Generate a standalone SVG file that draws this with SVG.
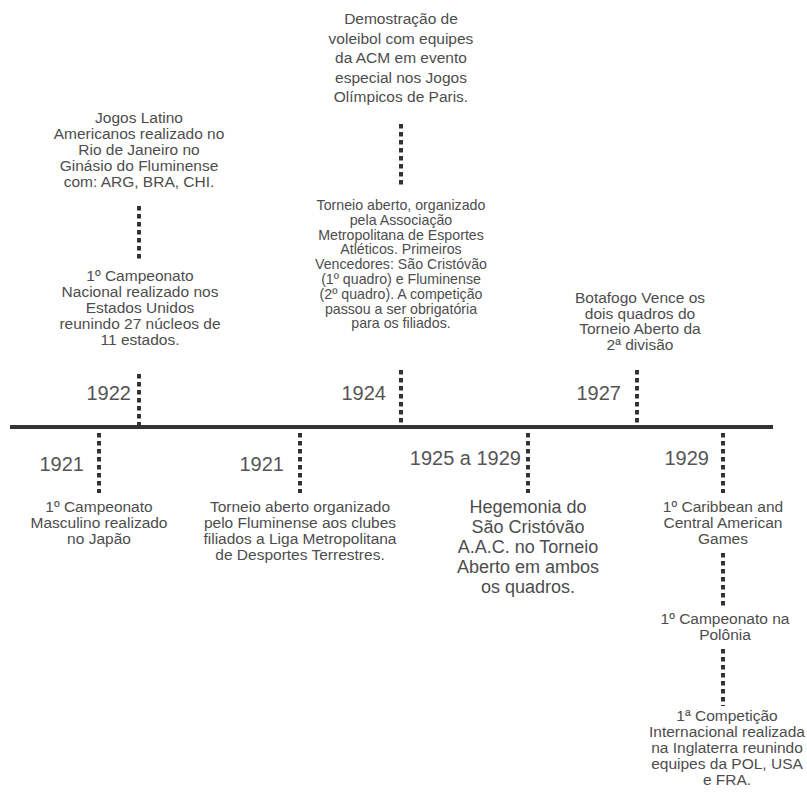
<svg xmlns="http://www.w3.org/2000/svg" width="807" height="799" viewBox="0 0 807 799">
<style>
.t{font-family:"Liberation Sans",Arial,sans-serif;font-size:15.5px;fill:#4d4d4d;text-anchor:middle}
.s{font-size:14.2px}
.b{font-size:18px}
.y{font-family:"Liberation Sans",Arial,sans-serif;font-size:20px;fill:#555;text-anchor:end}
.d{stroke:#333;stroke-width:4;stroke-dasharray:4.5 3.5;fill:none}
.axis{stroke:#333;stroke-width:4}
</style>
<rect width="807" height="799" fill="#fff"/>
<g id="connectors">
<line class="axis" x1="10" y1="427" x2="773" y2="427"/>
<line class="d" x1="139" y1="206" x2="139" y2="262"/>
<line class="d" x1="139" y1="374" x2="139" y2="425"/>
<line class="d" x1="401" y1="124" x2="401" y2="186"/>
<line class="d" x1="401" y1="370" x2="401" y2="425"/>
<line class="d" x1="637" y1="370" x2="637" y2="425"/>
<line class="d" x1="99" y1="433" x2="99" y2="493"/>
<line class="d" x1="300" y1="433" x2="300" y2="493"/>
<line class="d" x1="528" y1="433" x2="528" y2="493"/>
<line class="d" x1="723" y1="433" x2="723" y2="493"/>
<line class="d" x1="723" y1="553" x2="723" y2="609"/>
<line class="d" x1="723" y1="649" x2="723" y2="706"/>
</g>
<g id="n1922-jogos">
<text class="t" x="139" y="123">Jogos Latino</text>
<text class="t" x="139" y="139">Americanos realizado no</text>
<text class="t" x="139" y="155">Rio de Janeiro no</text>
<text class="t" x="139" y="171">Ginásio do Fluminense</text>
<text class="t" x="139" y="187">com: ARG, BRA, CHI.</text>
</g>
<g id="n1922-campeonato">
<text class="t" x="140" y="281">1º Campeonato</text>
<text class="t" x="140" y="297">Nacional realizado nos</text>
<text class="t" x="140" y="313">Estados Unidos</text>
<text class="t" x="140" y="329">reunindo 27 núcleos de</text>
<text class="t" x="140" y="345">11 estados.</text>
</g>
<g id="y1922"><text class="y" x="131" y="400">1922</text></g>
<g id="n1924-demo">
<text class="t" x="401" y="24">Demostração de</text>
<text class="t" x="401" y="43.5">voleibol com equipes</text>
<text class="t" x="401" y="63">da ACM em evento</text>
<text class="t" x="401" y="82.5">especial nos Jogos</text>
<text class="t" x="401" y="102">Olímpicos de Paris.</text>
</g>
<g id="n1924-torneio">
<text class="t s" x="401" y="210">Torneio aberto, organizado</text>
<text class="t s" x="401" y="224.8">pela Associação</text>
<text class="t s" x="401" y="239.6">Metropolitana de Esportes</text>
<text class="t s" x="401" y="254.4">Atléticos. Primeiros</text>
<text class="t s" x="401" y="269.2">Vencedores: São Cristóvão</text>
<text class="t s" x="401" y="284">(1º quadro) e Fluminense</text>
<text class="t s" x="401" y="298.8">(2º quadro). A competição</text>
<text class="t s" x="401" y="313.6">passou a ser obrigatória</text>
<text class="t s" x="401" y="328.4">para os filiados.</text>
</g>
<g id="y1924"><text class="y" x="386" y="400">1924</text></g>
<g id="n1927">
<text class="t" x="640" y="303">Botafogo Vence os</text>
<text class="t" x="640" y="318.5">dois quadros do</text>
<text class="t" x="640" y="334">Torneio Aberto da</text>
<text class="t" x="640" y="349.5">2ª divisão</text>
</g>
<g id="y1927"><text class="y" x="621" y="400">1927</text></g>
<g id="y1921a"><text class="y" x="84" y="471">1921</text></g>
<g id="n1921a">
<text class="t" x="99" y="512">1º Campeonato</text>
<text class="t" x="99" y="528">Masculino realizado</text>
<text class="t" x="99" y="544">no Japão</text>
</g>
<g id="y1921b"><text class="y" x="284" y="471">1921</text></g>
<g id="n1921b">
<text class="t" x="300" y="512">Torneio aberto organizado</text>
<text class="t" x="300" y="528">pelo Fluminense aos clubes</text>
<text class="t" x="300" y="544">filiados a Liga Metropolitana</text>
<text class="t" x="300" y="560">de Desportes Terrestres.</text>
</g>
<g id="y1925"><text class="y" x="521" y="465">1925 a 1929</text></g>
<g id="n1925">
<text class="t b" x="528" y="513">Hegemonia do</text>
<text class="t b" x="528" y="533">São Cristóvão</text>
<text class="t b" x="528" y="553">A.A.C. no Torneio</text>
<text class="t b" x="528" y="573">Aberto em ambos</text>
<text class="t b" x="528" y="593">os quadros.</text>
</g>
<g id="y1929"><text class="y" x="709" y="465">1929</text></g>
<g id="n1929-caribbean">
<text class="t" x="723" y="512">1º Caribbean and</text>
<text class="t" x="723" y="528">Central American</text>
<text class="t" x="723" y="544">Games</text>
</g>
<g id="n1929-polonia">
<text class="t" x="725" y="624">1º Campeonato na</text>
<text class="t" x="725" y="640">Polônia</text>
</g>
<g id="n1929-competicao">
<text class="t" x="727" y="721">1ª Competição</text>
<text class="t" x="727" y="737">Internacional realizada</text>
<text class="t" x="727" y="753">na Inglaterra reunindo</text>
<text class="t" x="727" y="769">equipes da POL, USA</text>
<text class="t" x="727" y="785">e FRA.</text>
</g>
</svg>
